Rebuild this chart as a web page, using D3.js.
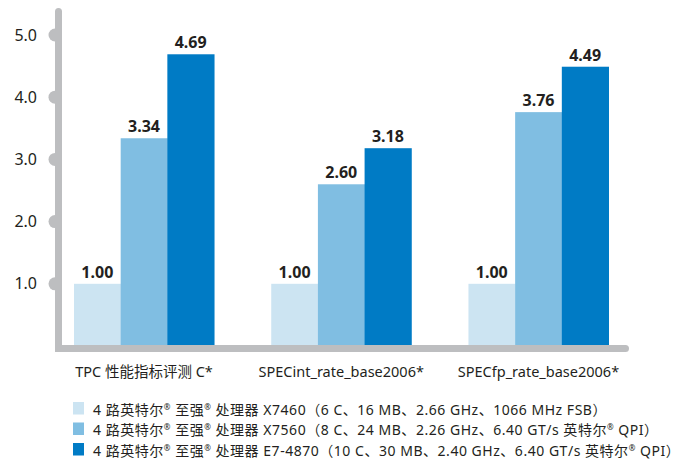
<!DOCTYPE html>
<html>
<head>
<meta charset="utf-8">
<script src="https://cdn.jsdelivr.net/npm/d3@7"></script>
<style>
  body { margin: 0; background: #fff; }
  text { font-family: "Noto Sans", "Noto Sans CJK SC", sans-serif; fill: #231f20; }
</style>
</head>
<body>
<svg id="chart" width="679" height="462"></svg>
<script>
// chart data
var categories = ["TPC 性能指标评测 C*", "SPECint_rate_base2006*", "SPECfp_rate_base2006*"];
var series = ["X7460", "X7560", "E7-4870"];
var valuesX7460 = [1.00, 1.00, 1.00];
var valuesX7560 = [3.34, 2.60, 3.76];
var valuesE74870 = [4.69, 3.18, 4.49];
var yTicks = [1, 2, 3, 4, 5];
var legendLabels = [
  ["4 路英特尔", "®", " 至强", "®", " 处理器 X7460（6 C、16 MB、2.66 GHz、1066 MHz FSB）"],
  ["4 路英特尔", "®", " 至强", "®", " 处理器 X7560（8 C、24 MB、2.26 GHz、6.40 GT/s 英特尔", "®", " QPI）"],
  ["4 路英特尔", "®", " 至强", "®", " 处理器 E7-4870（10 C、30 MB、2.40 GHz、6.40 GT/s 英特尔", "®", " QPI）"]
];

var colors = ["#cce4f2", "#80bee2", "#007bc5"];
var axisGray = "#bdbec0";

var svg = d3.select("#chart");
var allValues = [valuesX7460, valuesX7560, valuesE74870];

//scales
var y = d3.scaleLinear().domain([0, 5]).range([346, 35]);
var x0 = d3.scaleBand().domain(categories).range([74, 608.5]).paddingInner(0.29).paddingOuter(0);
var x1 = d3.scaleBand().domain(series).range([0, x0.bandwidth()]);

//tick bumps (drawn under the axis line)
svg.append("g").selectAll("circle")
  .data(yTicks)
  .enter()
  .append("circle")
  .attr("cx", 55)
  .attr("cy", function(d) { return y(d); })
  .attr("r", 6.5)
  .attr("fill", axisGray);

//axis line: y axis + baseline in one path
svg.append("path")
  .attr("d", "M58.5," + 11.5 + "V" + (y(0) + 2.5) + "H625.5")
  .attr("fill", "none")
  .attr("stroke", axisGray)
  .attr("stroke-width", 7)
  .attr("stroke-linecap", "round")
  .attr("stroke-linejoin", "miter");

//tick labels
var yAxis = svg.append("g")
  .attr("transform", "translate(58.5,0)")
  .call(d3.axisLeft(y).tickValues(yTicks).tickSize(0).tickPadding(21.5).tickFormat(d3.format(".1f")));
yAxis.select(".domain").remove();
yAxis.selectAll("text")
  .style("font-family", '"Noto Sans", "Noto Sans CJK SC", sans-serif')
  .style("font-size", "16px")
  .attr("fill", "#231f20");

//bars
var groups = svg.append("g").selectAll("g")
  .data(categories)
  .enter()
  .append("g")
  .attr("transform", function(d) { return "translate(" + x0(d) + ",0)"; });

groups.selectAll("rect")
  .data(function(d, i) {
    return series.map(function(s, j) { return { s: s, v: allValues[j][i], j: j }; });
  })
  .enter()
  .append("rect")
  .attr("x", function(d) { return x1(d.s); })
  .attr("y", function(d) { return y(d.v); })
  .attr("width", x1.bandwidth() + 0.5)
  .attr("height", function(d) { return y(0) - 1 - y(d.v); })
  .attr("fill", function(d) { return colors[d.j]; });

//value labels
groups.selectAll("text.val")
  .data(function(d, i) {
    return series.map(function(s, j) { return { s: s, v: allValues[j][i] }; });
  })
  .enter()
  .append("text")
  .attr("class", "val")
  .attr("x", function(d) { return x1(d.s) + x1.bandwidth() / 2; })
  .attr("y", function(d) { return y(d.v) - 6; })
  .attr("text-anchor", "middle")
  .style("font-size", "16px")
  .style("font-weight", "bold")
  .attr("fill", "#000")
  .text(function(d) { return d.v.toFixed(2); });

//category labels
svg.append("g").selectAll("text")
  .data(categories)
  .enter()
  .append("text")
  .attr("x", function(d) { return x0(d) + x0.bandwidth() / 2; })
  .attr("y", 377)
  .attr("text-anchor", "middle")
  .style("font-size", "14.5px")
  .text(function(d) { return d; });

//legend
var legend = svg.append("g").attr("class", "legend").selectAll("g")
  .data(legendLabels)
  .enter()
  .append("g")
  .attr("transform", function(d, i) { return "translate(73," + (402 + i * 20.5) + ")"; });

legend.append("rect")
  .attr("width", 11)
  .attr("height", 12.5)
  .attr("fill", function(d, i) { return colors[i]; });

var lt = legend.append("text")
  .attr("x", 20)
  .attr("y", 12.5)
  .style("font-size", "14px");

lt.selectAll("tspan")
  .data(function(d) { return d; })
  .enter()
  .append("tspan")
  .style("font-size", function(d) { return d === "®" ? "8px" : null; })
  .attr("dy", function(d, i, nodes) {
    if (d === "®") return -5;
    return (i > 0 && nodes[i - 1].__data__ === "®") ? 5 : 0;
  })
  .text(function(d) { return d; });

//widen legend text a bit to match the wider source font
var firstRow = lt.node();
var natural = firstRow.getComputedTextLength();
var nChars = legendLabels[0].join("").length;
var ls = Math.max(0, (514 - natural) / nChars);
lt.style("letter-spacing", ls + "px");
</script>
</body>
</html>
